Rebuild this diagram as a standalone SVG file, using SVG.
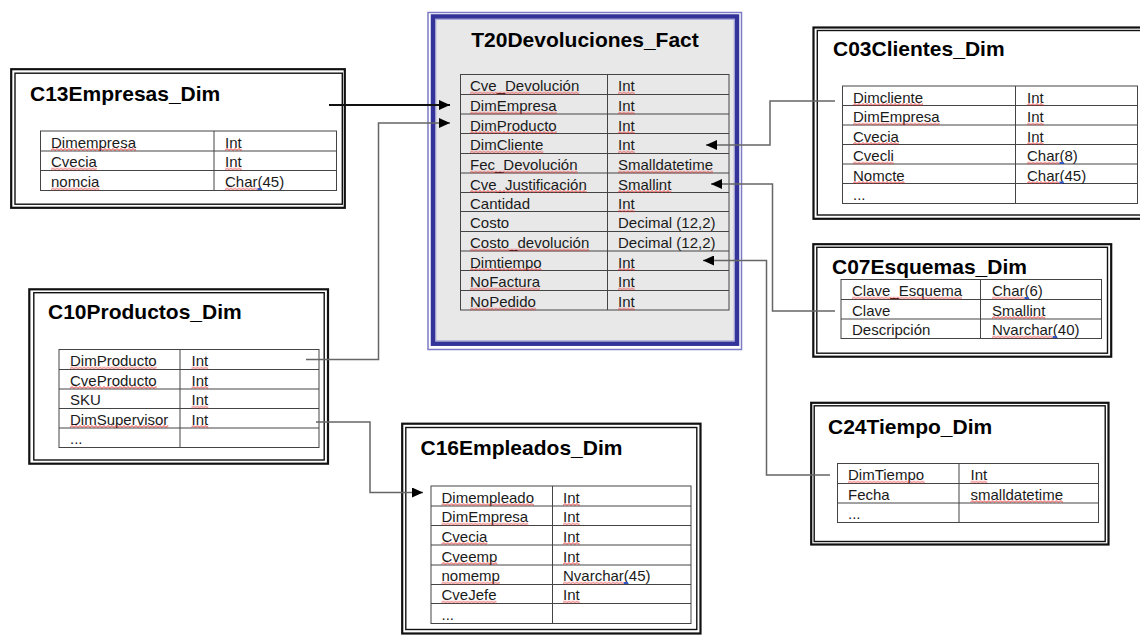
<svg xmlns="http://www.w3.org/2000/svg" width="1140" height="635" viewBox="0 0 1140 635">
  <defs>
    <style>
      .t { font: bold 21px "Liberation Sans", Arial, sans-serif; fill: #000; }
      .c { font: 15px "Liberation Sans", Arial, sans-serif; fill: #1a1a1a; }
      .fo { fill: none; stroke: #111; stroke-width: 2.2; }
      .fi { fill: none; stroke: #111; stroke-width: 1.4; }
      .grid { fill: none; stroke: #444; stroke-width: 1; }
      .conn { fill: none; stroke: #666; stroke-width: 1.5; }
      .conn.dark { stroke: #111; stroke-width: 2; }
      .w { fill: url(#wave); }
      .b { fill: #3355cc; }
    </style>
    <!-- red proofing squiggle, tiled from each rect's own origin -->
    <pattern id="wave" patternUnits="userSpaceOnUse" width="4" height="3">
      <path d="M0,2.4 L2,0.6 L4,2.4" fill="none" stroke="#e02828" stroke-width="0.9"/>
    </pattern>
    <marker id="arrow" viewBox="0 0 11 10" refX="11" refY="5" markerWidth="11" markerHeight="10" markerUnits="userSpaceOnUse" orient="auto">
      <path d="M0,0 L11,5 L0,10 Z" fill="#000"/>
    </marker>
  </defs>

  <rect width="1140" height="635" fill="#fff"/>

  <!-- fact table -->
  <g id="T20Devoluciones_Fact">
    <rect x="428" y="12.5" width="313.5" height="337" fill="none" stroke="#7c7cc4" stroke-width="1.5"/>
    <rect x="433" y="16.5" width="304" height="327.2" fill="#e8e8e8" stroke="#333399" stroke-width="4.5"/>
    <rect x="435.8" y="19.3" width="298.4" height="321.6" fill="none" stroke="#9a9ad4" stroke-width="1"/>
    <text class="t" x="585" y="47" text-anchor="middle">T20Devoluciones_Fact</text>
    <g class="grid">
      <rect x="460.5" y="74.5" width="268.5" height="235.5"/>
      <path d="M607.5,74.5V310 M460.5,94.5H729 M460.5,114H729 M460.5,133.5H729 M460.5,153.5H729 M460.5,173H729 M460.5,192.5H729 M460.5,211.5H729 M460.5,231.5H729 M460.5,251H729 M460.5,270.5H729 M460.5,290.5H729"/>
    </g>
    <g class="c">
      <text x="470" y="91">Cve_Devolución</text>
      <text x="470" y="111">DimEmpresa</text>
      <text x="470" y="130.5">DimProducto</text>
      <text x="470" y="150">DimCliente</text>
      <text x="470" y="170">Fec_Devolución</text>
      <text x="470" y="189.5">Cve_Justificación</text>
      <text x="470" y="209">Cantidad</text>
      <text x="470" y="228">Costo</text>
      <text x="470" y="248">Costo_devolución</text>
      <text x="470" y="267.5">Dimtiempo</text>
      <text x="470" y="287">NoFactura</text>
      <text x="470" y="307">NoPedido</text>
      <text x="618" y="91">Int</text>
      <text x="618" y="111">Int</text>
      <text x="618" y="130.5">Int</text>
      <text x="618" y="150">Int</text>
      <text x="618" y="170">Smalldatetime</text>
      <text x="618" y="189.5">Smallint</text>
      <text x="618" y="209">Int</text>
      <text x="618" y="228">Decimal (12,2)</text>
      <text x="618" y="248">Decimal (12,2)</text>
      <text x="618" y="267.5">Int</text>
      <text x="618" y="287">Int</text>
      <text x="618" y="307">Int</text>
    </g>
    <g class="marks">
      <rect class="w" width="109.2" height="3" transform="translate(470,91.5)"/>
      <rect class="w" width="86.7" height="3" transform="translate(470,111.5)"/>
      <rect class="w" width="86.7" height="3" transform="translate(470,131)"/>
      <rect class="w" width="73.3" height="3" transform="translate(470,150.5)"/>
      <rect class="w" width="107.5" height="3" transform="translate(470,170.5)"/>
      <rect class="w" width="116.7" height="3" transform="translate(470,190)"/>
      <rect class="w" width="119.2" height="3" transform="translate(470,248.5)"/>
      <rect class="w" width="71.7" height="3" transform="translate(470,268)"/>
      <rect class="w" width="70" height="3" transform="translate(470,287.5)"/>
      <rect class="w" width="65.9" height="3" transform="translate(470,307.5)"/>
      <rect class="w" width="16.7" height="3" transform="translate(618,91.5)"/>
      <rect class="w" width="16.7" height="3" transform="translate(618,111.5)"/>
      <rect class="w" width="16.7" height="3" transform="translate(618,131)"/>
      <rect class="w" width="16.7" height="3" transform="translate(618,150.5)"/>
      <rect class="w" width="95" height="3" transform="translate(618,170.5)"/>
      <rect class="w" width="53.3" height="3" transform="translate(618,190)"/>
      <rect class="w" width="16.7" height="3" transform="translate(618,209.5)"/>
      <rect class="w" width="16.7" height="3" transform="translate(618,268)"/>
      <rect class="w" width="16.7" height="3" transform="translate(618,287.5)"/>
      <rect class="w" width="16.7" height="3" transform="translate(618,307.5)"/>
    </g>
  </g>

  <!-- dimension: companies -->
  <g id="C13Empresas_Dim">
    <rect class="fo" x="11.2" y="69.2" width="333.6" height="138.6"/>
    <rect class="fi" x="15" y="73.2" width="327.3" height="131"/>
    <text class="t" x="30" y="101">C13Empresas_Dim</text>
    <g class="grid">
      <rect x="40.5" y="131" width="296" height="59.5"/>
      <path d="M214,131V190.5 M40.5,151H336.5 M40.5,170.5H336.5"/>
    </g>
    <g class="c">
      <text x="51" y="147.5">Dimempresa</text>
      <text x="51" y="167">Cvecia</text>
      <text x="51" y="187">nomcia</text>
      <text x="225" y="147.5">Int</text>
      <text x="225" y="167">Int</text>
      <text x="225" y="187">Char(45)</text>
    </g>
    <g class="marks">
      <rect class="w" width="85" height="3" transform="translate(51,148)"/>
      <rect class="w" width="45.8" height="3" transform="translate(51,167.5)"/>
      <rect class="w" width="48.3" height="3" transform="translate(51,187.5)"/>
      <rect class="w" width="16.7" height="3" transform="translate(225,148)"/>
      <rect class="w" width="16.7" height="3" transform="translate(225,167.5)"/>
      <rect class="w" width="32.5" height="3" transform="translate(225,187.5)"/>
      <rect class="b" x="257.5" y="188" width="4" height="2"/>
    </g>
  </g>

  <!-- dimension: customers -->
  <g id="C03Clientes_Dim">
    <rect class="fo" x="813.5" y="27.5" width="340" height="191.3"/>
    <rect class="fi" x="817.3" y="30.5" width="330" height="184.5"/>
    <text class="t" x="833" y="56">C03Clientes_Dim</text>
    <g class="grid">
      <rect x="842.5" y="86" width="295" height="117.5"/>
      <path d="M1015.5,86V203.5 M842.5,105.5H1137.5 M842.5,125H1137.5 M842.5,144.5H1137.5 M842.5,164H1137.5 M842.5,183.5H1137.5"/>
    </g>
    <g class="c">
      <text x="853" y="102.5">Dimcliente</text>
      <text x="853" y="122">DimEmpresa</text>
      <text x="853" y="141.5">Cvecia</text>
      <text x="853" y="161">Cvecli</text>
      <text x="853" y="180.5">Nomcte</text>
      <text x="853" y="200">...</text>
      <text x="1027" y="102.5">Int</text>
      <text x="1027" y="122">Int</text>
      <text x="1027" y="141.5">Int</text>
      <text x="1027" y="161">Char(8)</text>
      <text x="1027" y="180.5">Char(45)</text>
    </g>
    <g class="marks">
      <rect class="w" width="70" height="3" transform="translate(853,103)"/>
      <rect class="w" width="86.7" height="3" transform="translate(853,122.5)"/>
      <rect class="w" width="45.8" height="3" transform="translate(853,142)"/>
      <rect class="w" width="40.8" height="3" transform="translate(853,161.5)"/>
      <rect class="w" width="51.7" height="3" transform="translate(853,181)"/>
      <rect class="w" width="16.7" height="3" transform="translate(1027,103)"/>
      <rect class="w" width="16.7" height="3" transform="translate(1027,122.5)"/>
      <rect class="w" width="16.7" height="3" transform="translate(1027,142)"/>
      <rect class="w" width="32.5" height="3" transform="translate(1027,161.5)"/>
      <rect class="w" width="32.5" height="3" transform="translate(1027,181)"/>
      <rect class="b" x="1059.5" y="162" width="4" height="2"/>
      <rect class="b" x="1059.5" y="181.5" width="4" height="2"/>
    </g>
  </g>

  <!-- dimension: schemes -->
  <g id="C07Esquemas_Dim">
    <rect class="fo" x="813.3" y="244.2" width="297.9" height="112.5"/>
    <rect class="fi" x="816.8" y="247.3" width="290.7" height="105.9"/>
    <text class="t" x="832" y="274">C07Esquemas_Dim</text>
    <g class="grid">
      <rect x="841" y="279.5" width="260.5" height="59"/>
      <path d="M980.5,279.5V338.5 M841,299.5H1101.5 M841,319H1101.5"/>
    </g>
    <g class="c">
      <text x="852" y="296">Clave_Esquema</text>
      <text x="852" y="315.5">Clave</text>
      <text x="852" y="335">Descripción</text>
      <text x="992" y="296">Char(6)</text>
      <text x="992" y="315.5">Smallint</text>
      <text x="992" y="335">Nvarchar(40)</text>
    </g>
    <g class="marks">
      <rect class="w" width="110" height="3" transform="translate(852,296.5)"/>
      <rect class="w" width="32.5" height="3" transform="translate(992,296.5)"/>
      <rect class="w" width="53.3" height="3" transform="translate(992,316)"/>
      <rect class="w" width="60.8" height="3" transform="translate(992,335.5)"/>
      <rect class="b" x="1024.5" y="297" width="4" height="2"/>
      <rect class="b" x="1052.8" y="336" width="4" height="2"/>
    </g>
  </g>

  <!-- dimension: products -->
  <g id="C10Productos_Dim">
    <rect class="fo" x="29.3" y="289.3" width="298.7" height="174.4"/>
    <rect class="fi" x="33.8" y="292.7" width="290.4" height="167.3"/>
    <text class="t" x="48" y="319">C10Productos_Dim</text>
    <g class="grid">
      <rect x="59" y="349.5" width="260" height="98"/>
      <path d="M180,349.5V447.5 M59,369.5H319 M59,389H319 M59,408.5H319 M59,428H319"/>
    </g>
    <g class="c">
      <text x="70" y="366">DimProducto</text>
      <text x="70" y="385.5">CveProducto</text>
      <text x="70" y="405">SKU</text>
      <text x="70" y="424.5">DimSupervisor</text>
      <text x="70" y="444">...</text>
      <text x="191.5" y="366">Int</text>
      <text x="191.5" y="385.5">Int</text>
      <text x="191.5" y="405">Int</text>
      <text x="191.5" y="424.5">Int</text>
    </g>
    <g class="marks">
      <rect class="w" width="86.7" height="3" transform="translate(70,366.5)"/>
      <rect class="w" width="86.7" height="3" transform="translate(70,386)"/>
      <rect class="w" width="98.3" height="3" transform="translate(70,425)"/>
      <rect class="w" width="16.7" height="3" transform="translate(191.5,366.5)"/>
      <rect class="w" width="16.7" height="3" transform="translate(191.5,386)"/>
      <rect class="w" width="16.7" height="3" transform="translate(191.5,405.5)"/>
      <rect class="w" width="16.7" height="3" transform="translate(191.5,425)"/>
    </g>
  </g>

  <!-- dimension: employees -->
  <g id="C16Empleados_Dim">
    <rect class="fo" x="402.2" y="423.7" width="298.3" height="209.8"/>
    <rect class="fi" x="405.8" y="427.5" width="291" height="202"/>
    <text class="t" x="420.5" y="455">C16Empleados_Dim</text>
    <g class="grid">
      <rect x="431" y="486" width="260" height="137.5"/>
      <path d="M552.5,486V623.5 M431,506H691 M431,525.5H691 M431,545H691 M431,565H691 M431,584.5H691 M431,603.5H691"/>
    </g>
    <g class="c">
      <text x="441.5" y="502.5">Dimempleado</text>
      <text x="441.5" y="522">DimEmpresa</text>
      <text x="441.5" y="541.5">Cvecia</text>
      <text x="441.5" y="561.5">Cveemp</text>
      <text x="441.5" y="581">nomemp</text>
      <text x="441.5" y="600">CveJefe</text>
      <text x="441.5" y="620">...</text>
      <text x="563" y="502.5">Int</text>
      <text x="563" y="522">Int</text>
      <text x="563" y="541.5">Int</text>
      <text x="563" y="561.5">Int</text>
      <text x="563" y="581">Nvarchar(45)</text>
      <text x="563" y="600">Int</text>
    </g>
    <g class="marks">
      <rect class="w" width="92.5" height="3" transform="translate(441.5,503)"/>
      <rect class="w" width="86.7" height="3" transform="translate(441.5,522.5)"/>
      <rect class="w" width="45.8" height="3" transform="translate(441.5,542)"/>
      <rect class="w" width="55.8" height="3" transform="translate(441.5,562)"/>
      <rect class="w" width="58.4" height="3" transform="translate(441.5,581.5)"/>
      <rect class="w" width="55" height="3" transform="translate(441.5,600.5)"/>
      <rect class="w" width="16.7" height="3" transform="translate(563,503)"/>
      <rect class="w" width="16.7" height="3" transform="translate(563,522.5)"/>
      <rect class="w" width="16.7" height="3" transform="translate(563,542)"/>
      <rect class="w" width="16.7" height="3" transform="translate(563,562)"/>
      <rect class="w" width="60.8" height="3" transform="translate(563,581.5)"/>
      <rect class="w" width="16.7" height="3" transform="translate(563,600.5)"/>
      <rect class="b" x="623.8" y="582" width="4" height="2"/>
    </g>
  </g>

  <!-- dimension: time -->
  <g id="C24Tiempo_Dim">
    <rect class="fo" x="811.2" y="402.8" width="297.3" height="141.7"/>
    <rect class="fi" x="814.2" y="405.8" width="291" height="135.7"/>
    <text class="t" x="828" y="433.5">C24Tiempo_Dim</text>
    <g class="grid">
      <rect x="837.5" y="463.5" width="261" height="59"/>
      <path d="M959,463.5V522.5 M837.5,483.5H1098.5 M837.5,503H1098.5"/>
    </g>
    <g class="c">
      <text x="848" y="480">DimTiempo</text>
      <text x="848" y="499.5">Fecha</text>
      <text x="848" y="519">...</text>
      <text x="970.5" y="480">Int</text>
      <text x="970.5" y="499.5">smalldatetime</text>
    </g>
    <g class="marks">
      <rect class="w" width="76.7" height="3" transform="translate(848,480.5)"/>
      <rect class="w" width="16.7" height="3" transform="translate(970.5,480.5)"/>
      <rect class="w" width="92.5" height="3" transform="translate(970.5,500)"/>
    </g>
  </g>

  <!-- key references -->
  <g id="connectors">
    <path class="conn dark" d="M329,105H450" marker-end="url(#arrow)"/>
    <path class="conn" d="M306,359.5H378.5V123H450" marker-end="url(#arrow)"/>
    <path class="conn" d="M835,101H770V145H706" marker-end="url(#arrow)"/>
    <path class="conn" d="M835,311H772.5V184H711" marker-end="url(#arrow)"/>
    <path class="conn" d="M830,475H766.5V260.5H703" marker-end="url(#arrow)"/>
    <path class="conn" d="M316,422H370V492.5H423" marker-end="url(#arrow)"/>
  </g>
</svg>
